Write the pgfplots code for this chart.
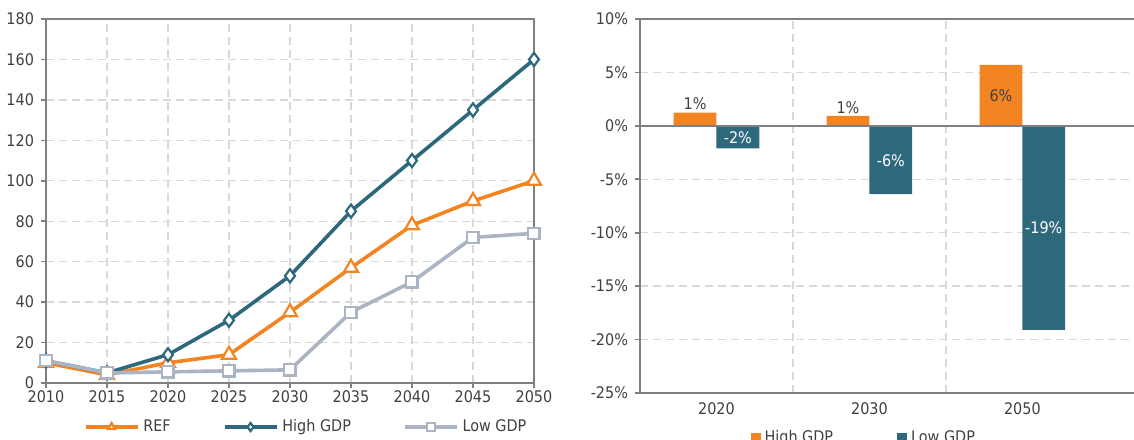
\documentclass[border=0pt]{standalone}
\usepackage{pgfplots}
\pgfplotsset{compat=1.18}
\usepackage{fontspec}
\setmainfont{DejaVu Sans Condensed}
\definecolor{orng}{RGB}{242,133,34}
\definecolor{tealc}{RGB}{46,104,125}
\definecolor{lgray}{RGB}{170,180,194}
\definecolor{axgray}{RGB}{128,128,128}
\definecolor{gridgray}{RGB}{217,217,217}
\definecolor{txt}{RGB}{64,64,64}
\begin{document}
\begin{tikzpicture}
\path[use as bounding box] (-23pt,-28pt) rectangle (544pt,191.5pt);
\begin{axis}[at={(0pt,0pt)}, anchor=south west, scale only axis, width=244pt, height=182pt,
 xmin=2010, xmax=2050, ymin=0, ymax=180,
 xtick={2010,2015,...,2050}, ytick={0,20,...,180},
 xtick pos=bottom, ytick pos=left,
 grid=major, major grid style={gridgray, line width=0.7pt, dash pattern=on 4pt off 2.5pt},
 axis line style={axgray, line width=1.3pt}, tick style={axgray, line width=0.8pt},
 tick align=outside, major tick length=2.5pt,
 ticklabel style={font=\fontsize{8}{9}\selectfont, text=txt},
 /pgf/number format/assume math mode=true, /pgf/number format/set thousands separator={},
 xticklabel style={yshift=2pt},
 legend columns=3,
 legend style={at={(0.535,-0.121)}, anchor=center, draw=none, fill=none,
   font=\fontsize{8}{9}\selectfont, text=txt, /tikz/every even column/.append style={column sep=24pt}},
 legend image code/.code={\draw[#1, mark size=2pt, mark repeat=2, mark phase=2] plot coordinates {(0pt,0pt) (13pt,0pt) (26pt,0pt)};},
]
\addplot[orng, line width=1.8pt, mark=triangle*, mark size=4pt, mark options={fill=white, line width=1.1pt}]
 coordinates {(2010,10) (2015,4) (2020,10) (2025,14) (2030,35) (2035,57) (2040,78) (2045,90) (2050,100)};
\addlegendentry{REF}
\addplot[tealc, line width=1.8pt, mark=diamond*, mark size=3.3pt, mark options={fill=white, line width=1.1pt}]
 coordinates {(2010,11) (2015,5) (2020,14) (2025,31) (2030,53) (2035,85) (2040,110) (2045,135) (2050,160)};
\addlegendentry{High GDP}
\addplot[lgray, line width=1.8pt, mark=square*, mark size=2.8pt, mark options={fill=white, line width=1.1pt}]
 coordinates {(2010,11) (2015,5) (2020,5.5) (2025,6) (2030,6.5) (2035,35) (2040,50) (2045,72) (2050,74)};
\addlegendentry{Low GDP}
\end{axis}
\begin{axis}[at={(297pt,-5pt)}, anchor=south west, scale only axis, width=247pt, height=187pt,
 xmin=-0.5, xmax=2.73, ymin=-25, ymax=10,
 ytick={-25,-20,...,10}, xtick={0,1,2}, xticklabels={2020,2030,2050},
 minor xtick={0.5,1.5},
 axis y line*=left,
 xminorgrids=true, ymajorgrids=true,
 major grid style={gridgray, line width=0.7pt, dash pattern=on 4pt off 2.5pt},
 minor grid style={gridgray, line width=0.7pt, dash pattern=on 4pt off 2.5pt},
 axis line style={axgray, line width=1.3pt}, tick style={axgray, line width=0.8pt},
 tick align=outside, major tick length=2.5pt, minor tick length=0pt,
 xtick style={draw=none},
 ticklabel style={font=\fontsize{8}{9}\selectfont, text=txt},
 /pgf/number format/assume math mode=true,
 yticklabel={\pgfmathprintnumber{\tick}\%},
 xticklabel style={yshift=1pt},
 legend columns=2,
 legend style={at={(0.455,-0.12)}, anchor=center, draw=none, fill=none,
   font=\fontsize{8}{9}\selectfont, text=txt, /tikz/every even column/.append style={column sep=30pt}},
 legend image code/.code={\fill[#1] (0pt,-2.5pt) rectangle (5pt,2.5pt);},
]
\addplot[ybar, bar width=0.28, bar shift=-0.14, fill=orng, draw=none]
 coordinates {(0,1.25) (1,0.94) (2,5.7)};
\addlegendentry{High GDP}
\addplot[ybar, bar width=0.28, bar shift=0.14, fill=tealc, draw=none]
 coordinates {(0,-2.1) (1,-6.4) (2,-19.1)};
\addlegendentry{Low GDP}
\addplot[axgray, line width=1.3pt, forget plot] coordinates {(-0.5,0) (2.73,0)};
\node[anchor=south, text=txt, font=\fontsize{8}{9}\selectfont, inner sep=1pt] at (axis cs:-0.14,1.25) {1\%};
\node[anchor=south, text=txt, font=\fontsize{8}{9}\selectfont, inner sep=1pt] at (axis cs:0.86,0.94) {1\%};
\node[text=txt, font=\fontsize{8}{9}\selectfont] at (axis cs:1.86,2.85) {6\%};
\node[text=white, font=\fontsize{8}{9}\selectfont] at (axis cs:0.14,-1.06) {-2\%};
\node[text=white, font=\fontsize{8}{9}\selectfont] at (axis cs:1.14,-3.25) {-6\%};
\node[text=white, font=\fontsize{8}{9}\selectfont] at (axis cs:2.14,-9.55) {-19\%};
\end{axis}
\end{tikzpicture}
\end{document}
